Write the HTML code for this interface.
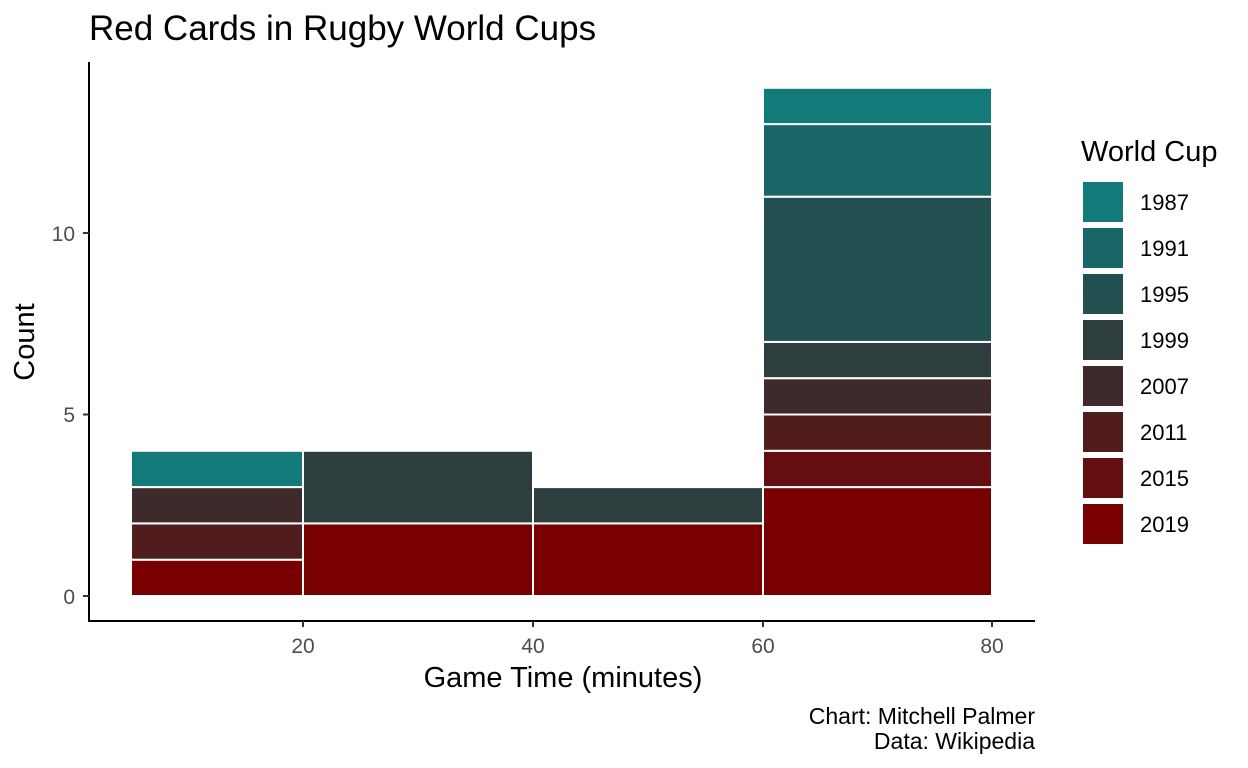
<!DOCTYPE html><html><head><style>body{margin:0;background:#fff}svg{display:block;font-family:"Liberation Sans",Arial,sans-serif}</style></head><body>
<svg width="1248" height="768" viewBox="0 0 1248 768">
<rect width="1248" height="768" fill="#fff"/>
<text x="89" y="40" font-size="35" fill="#000">Red Cards in Rugby World Cups</text>
<g stroke="#fff" stroke-width="2">
<rect x="131" y="559.7" width="172" height="36.3" fill="#780000"/>
<rect x="131" y="523.4" width="172" height="36.3" fill="#501c1c"/>
<rect x="131" y="487.1" width="172" height="36.3" fill="#3e2a2a"/>
<rect x="131" y="450.8" width="172" height="36.3" fill="#127a78"/>
<rect x="303" y="523.4" width="230" height="72.6" fill="#780000"/>
<rect x="303" y="450.8" width="230" height="72.6" fill="#2e3e3e"/>
<rect x="533" y="523.4" width="230" height="72.6" fill="#780000"/>
<rect x="533" y="487.1" width="230" height="36.3" fill="#2e3e3e"/>
<rect x="763" y="487.1" width="229" height="108.9" fill="#780000"/>
<rect x="763" y="450.8" width="229" height="36.3" fill="#640e12"/>
<rect x="763" y="414.5" width="229" height="36.3" fill="#501c1c"/>
<rect x="763" y="378.2" width="229" height="36.3" fill="#3e2a2a"/>
<rect x="763" y="341.9" width="229" height="36.3" fill="#2e3e3e"/>
<rect x="763" y="196.7" width="229" height="145.2" fill="#225050"/>
<rect x="763" y="124.1" width="229" height="72.6" fill="#186666"/>
<rect x="763" y="87.8" width="229" height="36.3" fill="#127a78"/>
</g>
<g stroke="#000" stroke-width="2" fill="none">
<line x1="89" y1="62" x2="89" y2="622"/>
<line x1="88" y1="621" x2="1035" y2="621"/>
</g>
<g stroke="#333" stroke-width="2">
<line x1="83" y1="596" x2="89" y2="596"/><line x1="83" y1="414.5" x2="89" y2="414.5"/><line x1="83" y1="233" x2="89" y2="233"/>
<line x1="303" y1="621" x2="303" y2="627"/><line x1="533" y1="621" x2="533" y2="627"/><line x1="763" y1="621" x2="763" y2="627"/><line x1="992" y1="621" x2="992" y2="627"/>
</g>
<g font-size="21" fill="#4d4d4d" text-anchor="end">
<text x="75" y="604">0</text><text x="75" y="422">5</text><text x="75" y="241">10</text>
</g>
<g font-size="21" fill="#4d4d4d" text-anchor="middle">
<text x="303" y="653">20</text><text x="533" y="653">40</text><text x="763" y="653">60</text><text x="992" y="653">80</text>
</g>
<text x="563" y="687" font-size="29" text-anchor="middle">Game Time (minutes)</text>
<text transform="translate(34,342) rotate(-90)" font-size="29" text-anchor="middle">Count</text>
<text x="1035" y="724" font-size="23" text-anchor="end">Chart: Mitchell Palmer</text>
<text x="1035" y="749" font-size="23" text-anchor="end">Data: Wikipedia</text>
<text x="1081" y="161" font-size="29">World Cup</text>
<g>
<rect x="1083" y="182" width="40" height="40" fill="#127a78"/>
<rect x="1083" y="228" width="40" height="40" fill="#186666"/>
<rect x="1083" y="274" width="40" height="40" fill="#225050"/>
<rect x="1083" y="320" width="40" height="40" fill="#2e3e3e"/>
<rect x="1083" y="366" width="40" height="40" fill="#3e2a2a"/>
<rect x="1083" y="412" width="40" height="40" fill="#501c1c"/>
<rect x="1083" y="458" width="40" height="40" fill="#640e12"/>
<rect x="1083" y="504" width="40" height="40" fill="#780000"/>
</g>
<g font-size="22" fill="#000">
<text x="1140" y="210">1987</text><text x="1140" y="256">1991</text><text x="1140" y="302">1995</text><text x="1140" y="348">1999</text>
<text x="1140" y="394">2007</text><text x="1140" y="440">2011</text><text x="1140" y="486">2015</text><text x="1140" y="532">2019</text>
</g>
</svg></body></html>
